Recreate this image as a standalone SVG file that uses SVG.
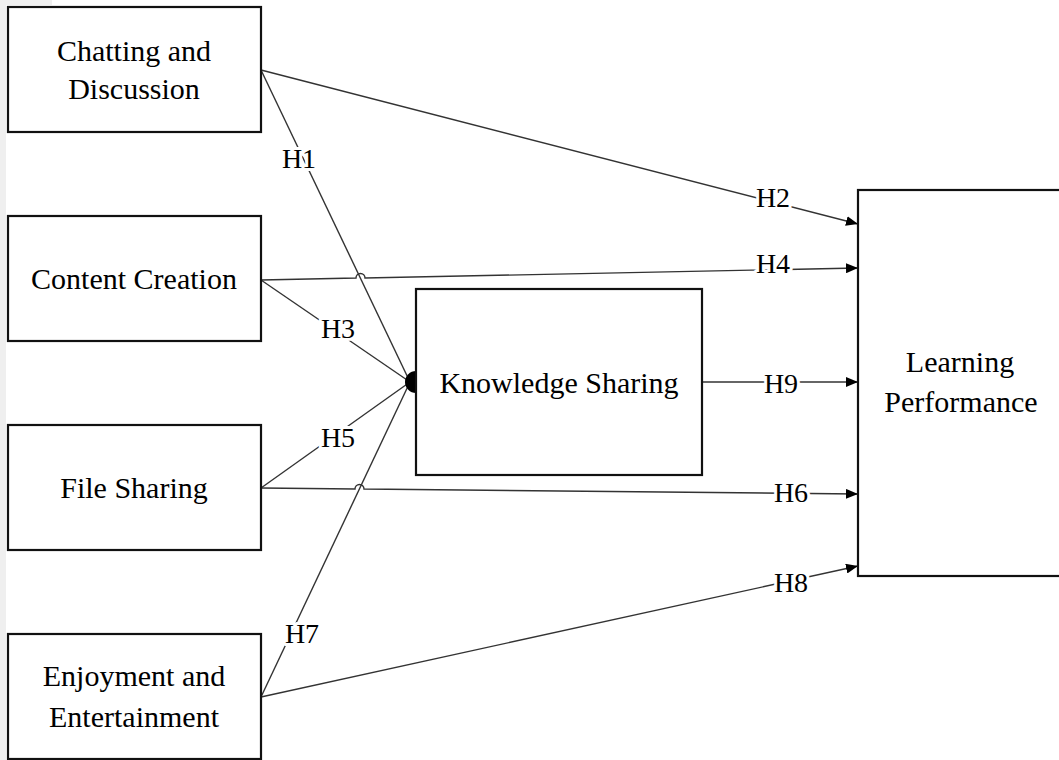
<svg xmlns="http://www.w3.org/2000/svg" width="1059" height="760" viewBox="0 0 1059 760">
<defs>
<marker id="ah" viewBox="0 0 12 10" refX="12" refY="5" markerWidth="12" markerHeight="10" markerUnits="userSpaceOnUse" orient="auto">
<path d="M0,0 L12,5 L0,10 Z" fill="#000"/>
</marker>
<style>
.box{fill:#fff;stroke:#111;stroke-width:2.2}
.nt{font-family:"Liberation Serif","Times New Roman",serif;font-size:30px;fill:#000;text-anchor:middle}
.ln{fill:none;stroke:#333;stroke-width:1.4}
.lb{font-family:"Liberation Serif","Times New Roman",serif;font-size:28px;fill:#000;text-anchor:middle;stroke:#fff;stroke-width:6;paint-order:stroke;stroke-linejoin:round}
</style>
</defs>
<rect x="0" y="0" width="1059" height="760" fill="#fff"/>
<rect x="0" y="0" width="6" height="760" fill="#efefef"/>
<rect x="0" y="0" width="52" height="5" fill="#efefef"/>

<g id="connectors">
<path class="ln" d="M261,70 L410,382"/>
<path class="ln" d="M261,70 L858,224" marker-end="url(#ah)"/>
<path class="ln" d="M261,280 L410,382"/>
<path class="ln" d="M261,280 L356,278 A4.5,4.5 0 0 1 365,278 L858,268" marker-end="url(#ah)"/>
<path class="ln" d="M261,488 L410,382"/>
<path class="ln" d="M261,488 L355,489 A4.5,4.5 0 0 1 364,489 L858,494" marker-end="url(#ah)"/>
<path class="ln" d="M261,697 L410,382"/>
<path class="ln" d="M261,697 L858,566" marker-end="url(#ah)"/>
<path class="ln" d="M702,382 L858,382" marker-end="url(#ah)"/>
<path d="M416,371 A11,11 0 0 0 416,393 Z" fill="#000"/>
<text class="lb" x="299" y="168">H1</text>
<text class="lb" x="773" y="207">H2</text>
<text class="lb" x="338" y="338">H3</text>
<text class="lb" x="773" y="273">H4</text>
<text class="lb" x="338" y="447">H5</text>
<text class="lb" x="791" y="502">H6</text>
<text class="lb" x="302" y="643">H7</text>
<text class="lb" x="791" y="592">H8</text>
<text class="lb" x="781" y="393">H9</text>
</g>

<g id="chatting">
<rect class="box" x="8" y="7" width="253" height="125"/>
<text class="nt" x="134" y="61">Chatting and</text>
<text class="nt" x="134" y="99">Discussion</text>
</g>
<g id="content">
<rect class="box" x="8" y="216" width="253" height="125"/>
<text class="nt" x="134" y="289">Content Creation</text>
</g>
<g id="file">
<rect class="box" x="8" y="425" width="253" height="125"/>
<text class="nt" x="134" y="498">File Sharing</text>
</g>
<g id="enjoyment">
<rect class="box" x="8" y="634" width="253" height="125"/>
<text class="nt" x="134" y="686">Enjoyment and</text>
<text class="nt" x="134" y="727">Entertainment</text>
</g>
<g id="knowledge">
<rect class="box" x="416" y="289" width="286" height="186"/>
<text class="nt" x="559" y="393">Knowledge Sharing</text>
</g>
<g id="learning">
<rect class="box" x="858" y="190" width="215" height="386"/>
<text class="nt" x="960" y="372">Learning</text>
<text class="nt" x="961" y="412">Performance</text>
</g>
</svg>
